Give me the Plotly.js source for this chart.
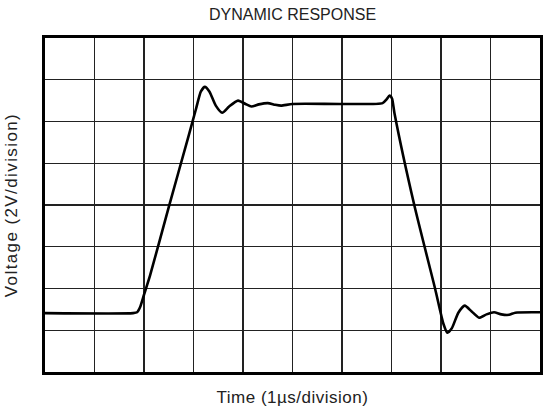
<!DOCTYPE html>
<html>
<head>
<meta charset="utf-8">
<script src="https://cdn.plot.ly/plotly-3.0.1.min.js"></script>
<style>
html,body{margin:0;padding:0;background:#fff;}
#chart{width:544px;height:413px;}
#chart .g-xtitle text {letter-spacing: 0.5px;}
#chart .g-ytitle text {letter-spacing: 1.4px;}
</style>
</head>
<body>
<div id="chart"></div>
<script>
// Time in divisions (1 µs/division)
const timeDiv = [0, 1.78, 1.86, 1.92, 2.0, 2.12, 2.5, 2.9, 3.05, 3.15, 3.23, 3.32, 3.45, 3.58, 3.72, 3.9, 4.05, 4.17, 4.32, 4.5, 4.65, 4.77, 5.0, 6.0, 6.82, 6.9, 6.96, 7.01, 7.06, 7.46, 7.88, 8.05, 8.13, 8.22, 8.35, 8.48, 8.62, 8.77, 8.92, 9.07, 9.22, 9.375, 9.5, 10];
// Voltage in divisions (2 V/division), from bottom of screen
const voltDiv = [1.41, 1.41, 1.43, 1.55, 1.85, 2.3, 3.95, 5.65, 6.3, 6.72, 6.83, 6.72, 6.38, 6.21, 6.36, 6.5, 6.42, 6.36, 6.41, 6.44, 6.4, 6.38, 6.42, 6.42, 6.44, 6.53, 6.62, 6.55, 6.2, 4.0, 2.0, 1.15, 0.94, 1.05, 1.42, 1.59, 1.45, 1.30, 1.38, 1.43, 1.38, 1.37, 1.42, 1.43];
const xDivisions = [0, 1, 2, 3, 4, 5, 6, 7, 8, 9, 10];
const yDivisions = [0, 1, 2, 3, 4, 5, 6, 7, 8];

const trace = {
  x: timeDiv, y: voltDiv, type: 'scatter', mode: 'lines',
  line: {color: '#000', width: 2.6, shape: 'spline', smoothing: 0.6},
  hoverinfo: 'skip'
};
const family = 'Liberation Sans, Arial, sans-serif';
const titleFont = {family: family, size: 16, color: '#222'};
const axisFont = {family: family, size: 17, color: '#222'};
const layout = {
  width: 544, height: 413,
  margin: {l: 45, r: 4, t: 38, b: 41},
  paper_bgcolor: '#fff', plot_bgcolor: '#fff',
  showlegend: false,
  font: {family: family, size: 13, color: '#222'},
  title: {text: 'DYNAMIC RESPONSE', font: titleFont, x: 0.5, xref: 'paper', y: 1 - 14/413, yref: 'container', yanchor: 'middle'},
  xaxis: {
    range: [0, 10], tickmode: 'array', tickvals: xDivisions, showticklabels: false, ticks: '',
    showgrid: true, gridcolor: '#222', gridwidth: 1.3, zeroline: false,
    showline: true, linecolor: '#000', linewidth: 3, mirror: true, fixedrange: true,
    title: {text: 'Time (1µs/division)', font: axisFont, standoff: 18}
  },
  yaxis: {
    range: [0, 8], tickmode: 'array', tickvals: yDivisions, showticklabels: false, ticks: '',
    showgrid: true, gridcolor: '#222', gridwidth: 1.3, zeroline: false,
    showline: true, linecolor: '#000', linewidth: 3, mirror: true, fixedrange: true,
    title: {text: 'Voltage (2V/division)', font: axisFont, standoff: 21}
  }
};
Plotly.newPlot('chart', [trace], layout, {staticPlot: true, displayModeBar: false});
</script>
</body>
</html>
